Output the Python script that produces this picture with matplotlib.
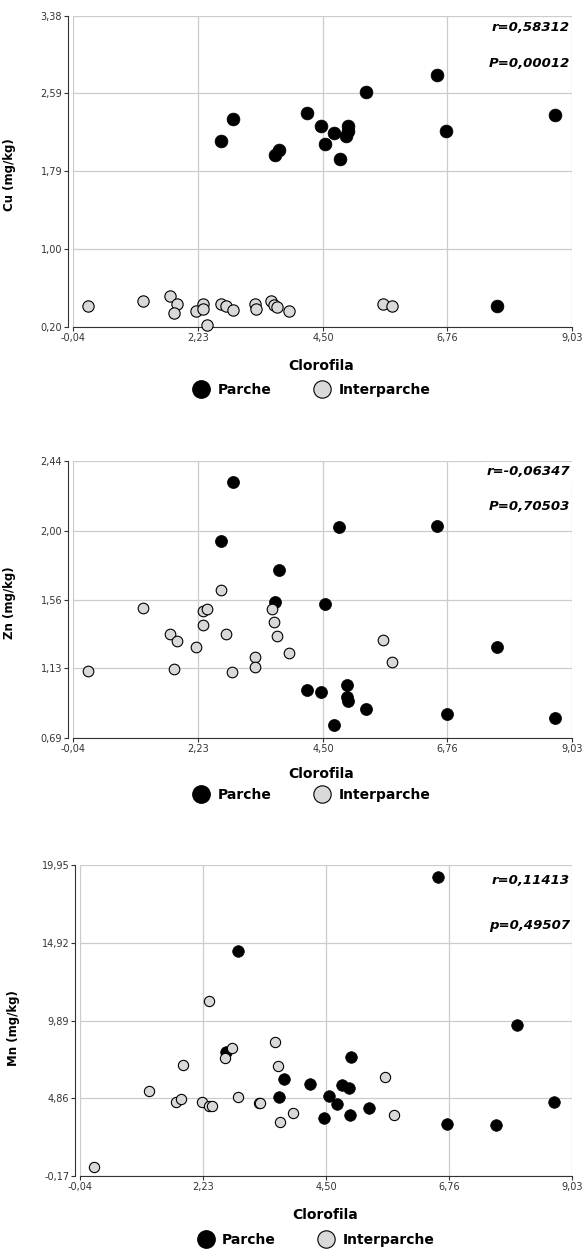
import matplotlib
matplotlib.use('Agg')
import matplotlib.pyplot as plt
from matplotlib.lines import Line2D

# clorofila (x) and metal content (y) per group
cu_parche_x = [2.64, 2.87, 3.63, 3.71, 4.21, 4.47, 4.54, 4.70, 4.81, 4.96, 4.95, 4.92, 5.29, 6.58, 6.74, 8.72, 7.66]
cu_parche_y = [2.10, 2.33, 1.96, 2.01, 2.39, 2.25, 2.07, 2.18, 1.92, 2.25, 2.20, 2.15, 2.60, 2.78, 2.20, 2.37, 0.41]
cu_inter_x = [0.23, 1.22, 1.72, 1.85, 1.80, 2.20, 2.32, 2.32, 2.39, 2.64, 2.74, 2.86, 3.26, 3.28, 3.56, 3.61, 3.66, 3.88, 5.59, 5.76]
cu_inter_y = [0.41, 0.46, 0.51, 0.43, 0.34, 0.36, 0.43, 0.38, 0.22, 0.43, 0.41, 0.37, 0.43, 0.38, 0.46, 0.42, 0.40, 0.36, 0.43, 0.41]

zn_parche_x = [3.71, 3.63, 2.87, 2.64, 4.80, 6.58, 4.54, 4.21, 4.47, 4.94, 4.93, 4.95, 5.29, 4.71, 6.75, 7.66, 8.72]
zn_parche_y = [1.752, 1.547, 2.307, 1.934, 2.024, 2.033, 1.537, 0.992, 0.981, 1.024, 0.950, 0.922, 0.872, 0.768, 0.842, 1.264, 0.813]
zn_inter_x = [0.22, 1.22, 1.72, 1.85, 1.80, 2.20, 2.32, 2.39, 2.32, 2.64, 2.74, 2.85, 3.26, 3.26, 3.57, 3.61, 3.66, 3.88, 5.59, 5.75]
zn_inter_y = [1.114, 1.513, 1.347, 1.304, 1.125, 1.262, 1.492, 1.505, 1.404, 1.625, 1.347, 1.104, 1.203, 1.140, 1.505, 1.423, 1.332, 1.224, 1.309, 1.171]

mn_parche_x = [2.64, 3.71, 4.20, 3.63, 4.95, 4.79, 4.91, 4.54, 4.69, 5.29, 4.46, 4.94, 6.73, 7.63, 6.56, 2.86, 8.01, 8.69]
mn_parche_y = [7.87, 6.08, 5.80, 4.92, 7.53, 5.70, 5.54, 5.02, 4.51, 4.23, 3.56, 3.78, 3.19, 3.11, 19.19, 14.36, 9.60, 4.62]
mn_inter_x = [0.22, 1.22, 1.73, 1.81, 1.85, 2.20, 2.33, 2.38, 2.33, 2.63, 2.75, 2.86, 3.25, 3.27, 3.56, 3.60, 3.88, 3.64, 5.58, 5.74]
mn_inter_y = [0.41, 5.35, 4.62, 4.79, 7.01, 4.62, 4.36, 4.36, 11.15, 7.48, 8.09, 4.94, 4.57, 4.55, 8.52, 6.95, 3.92, 3.32, 6.23, 3.80]

x_ticks = [-0.04, 2.23, 4.50, 6.76, 9.03]
x_tick_labels = ['-0,04', '2,23', '4,50', '6,76', '9,03']
cu_ticks = [0.20, 1.00, 1.79, 2.59, 3.38]
cu_tick_labels = ['0,20', '1,00', '1,79', '2,59', '3,38']
zn_ticks = [0.69, 1.13, 1.56, 2.00, 2.44]
zn_tick_labels = ['0,69', '1,13', '1,56', '2,00', '2,44']
mn_ticks = [-0.17, 4.86, 9.89, 14.92, 19.95]
mn_tick_labels = ['-0,17', '4,86', '9,89', '14,92', '19,95']

grey = '#d9d9d9'
gridc = '#cccccc'

fig = plt.figure(figsize=(5.85, 12.49), dpi=100)


def panel(rect, px, py, ix, iy, yticks, ylabels, ylabel, r_txt, p_txt, txt_y, ms, lbl_y, box=False):
    ax = fig.add_axes(rect)
    # spine position first, it resets the ticks
    for s in ['top', 'right']:
        ax.spines[s].set_visible(False)
    ax.spines['left'].set_position(('outward', 3.5))
    ax.spines['left'].set_color('#333333')
    ax.spines['bottom'].set_color('#333333')

    ax.scatter(px, py, s=ms, c='black', edgecolors='black', linewidths=0.5, zorder=3, clip_on=False)
    ax.scatter(ix, iy, s=ms * 0.78, c=grey, edgecolors='black', linewidths=0.8, zorder=4, clip_on=False)
    ax.set_xlim(x_ticks[0], x_ticks[-1])
    ax.set_ylim(yticks[0], yticks[-1])
    ax.set_xticks(x_ticks)
    ax.set_xticklabels(x_tick_labels)
    ax.set_yticks(yticks)
    ax.set_yticklabels(ylabels)
    ax.tick_params(length=3, width=0.8, pad=1.5, colors='#333333', labelsize=7)
    ax.grid(True, color=gridc, linewidth=0.9, zorder=0)
    ax.set_axisbelow(True)
    ax.set_xlabel('Clorofila', fontsize=10, fontweight='bold')
    ax.xaxis.set_label_coords(0.497, lbl_y)
    ax.set_ylabel(ylabel, fontsize=8.5, fontweight='bold')
    ax.yaxis.set_label_coords(-0.115, 0.49)
    bb = dict(facecolor='white', edgecolor='none', pad=2) if box else None
    ax.text(0.996, txt_y[0], r_txt, transform=ax.transAxes, ha='right', va='center',
            fontsize=9.5, fontweight='bold', style='italic', bbox=bb, zorder=5)
    ax.text(0.996, txt_y[1], p_txt, transform=ax.transAxes, ha='right', va='center',
            fontsize=9.5, fontweight='bold', style='italic', zorder=5)
    return ax


panel([0.1253, 0.7384, 0.8525, 0.2488], cu_parche_x, cu_parche_y, cu_inter_x, cu_inter_y,
      cu_ticks, cu_tick_labels, 'Cu (mg/kg)', 'r=0,58312', 'P=0,00012', (0.962, 0.8455), 85, -0.105)
panel([0.1253, 0.4094, 0.8525, 0.2213], zn_parche_x, zn_parche_y, zn_inter_x, zn_inter_y,
      zn_ticks, zn_tick_labels, 'Zn (mg/kg)', 'r=-0,06347', 'P=0,70503', (0.962, 0.838), 75, -0.105, box=True)
ax3 = panel([0.1373, 0.0584, 0.8405, 0.2490], mn_parche_x, mn_parche_y, mn_inter_x, mn_inter_y,
            mn_ticks, mn_tick_labels, 'Mn (mg/kg)', 'r=0,11413', 'p=0,49507', (0.9495, 0.807), 70, -0.103)
ax3.yaxis.set_label_coords(-0.122, 0.476)

handles = [Line2D([], [], marker='o', ls='', markersize=12.5, markerfacecolor='black', markeredgecolor='black'),
           Line2D([], [], marker='o', ls='', markersize=12.5, markerfacecolor=grey, markeredgecolor='black', markeredgewidth=0.8)]
for ly, lx in [(0.688, 0.533), (0.3635, 0.533), (0.0075, 0.540)]:
    fig.legend(handles, ['Parche', 'Interparche'], loc='center', bbox_to_anchor=(lx, ly), ncol=2,
               frameon=False, handlelength=1.2, handletextpad=0.6, columnspacing=3.0,
               borderpad=0, prop={'weight': 'bold', 'size': 10})

fig.savefig('out.png', dpi=100)
